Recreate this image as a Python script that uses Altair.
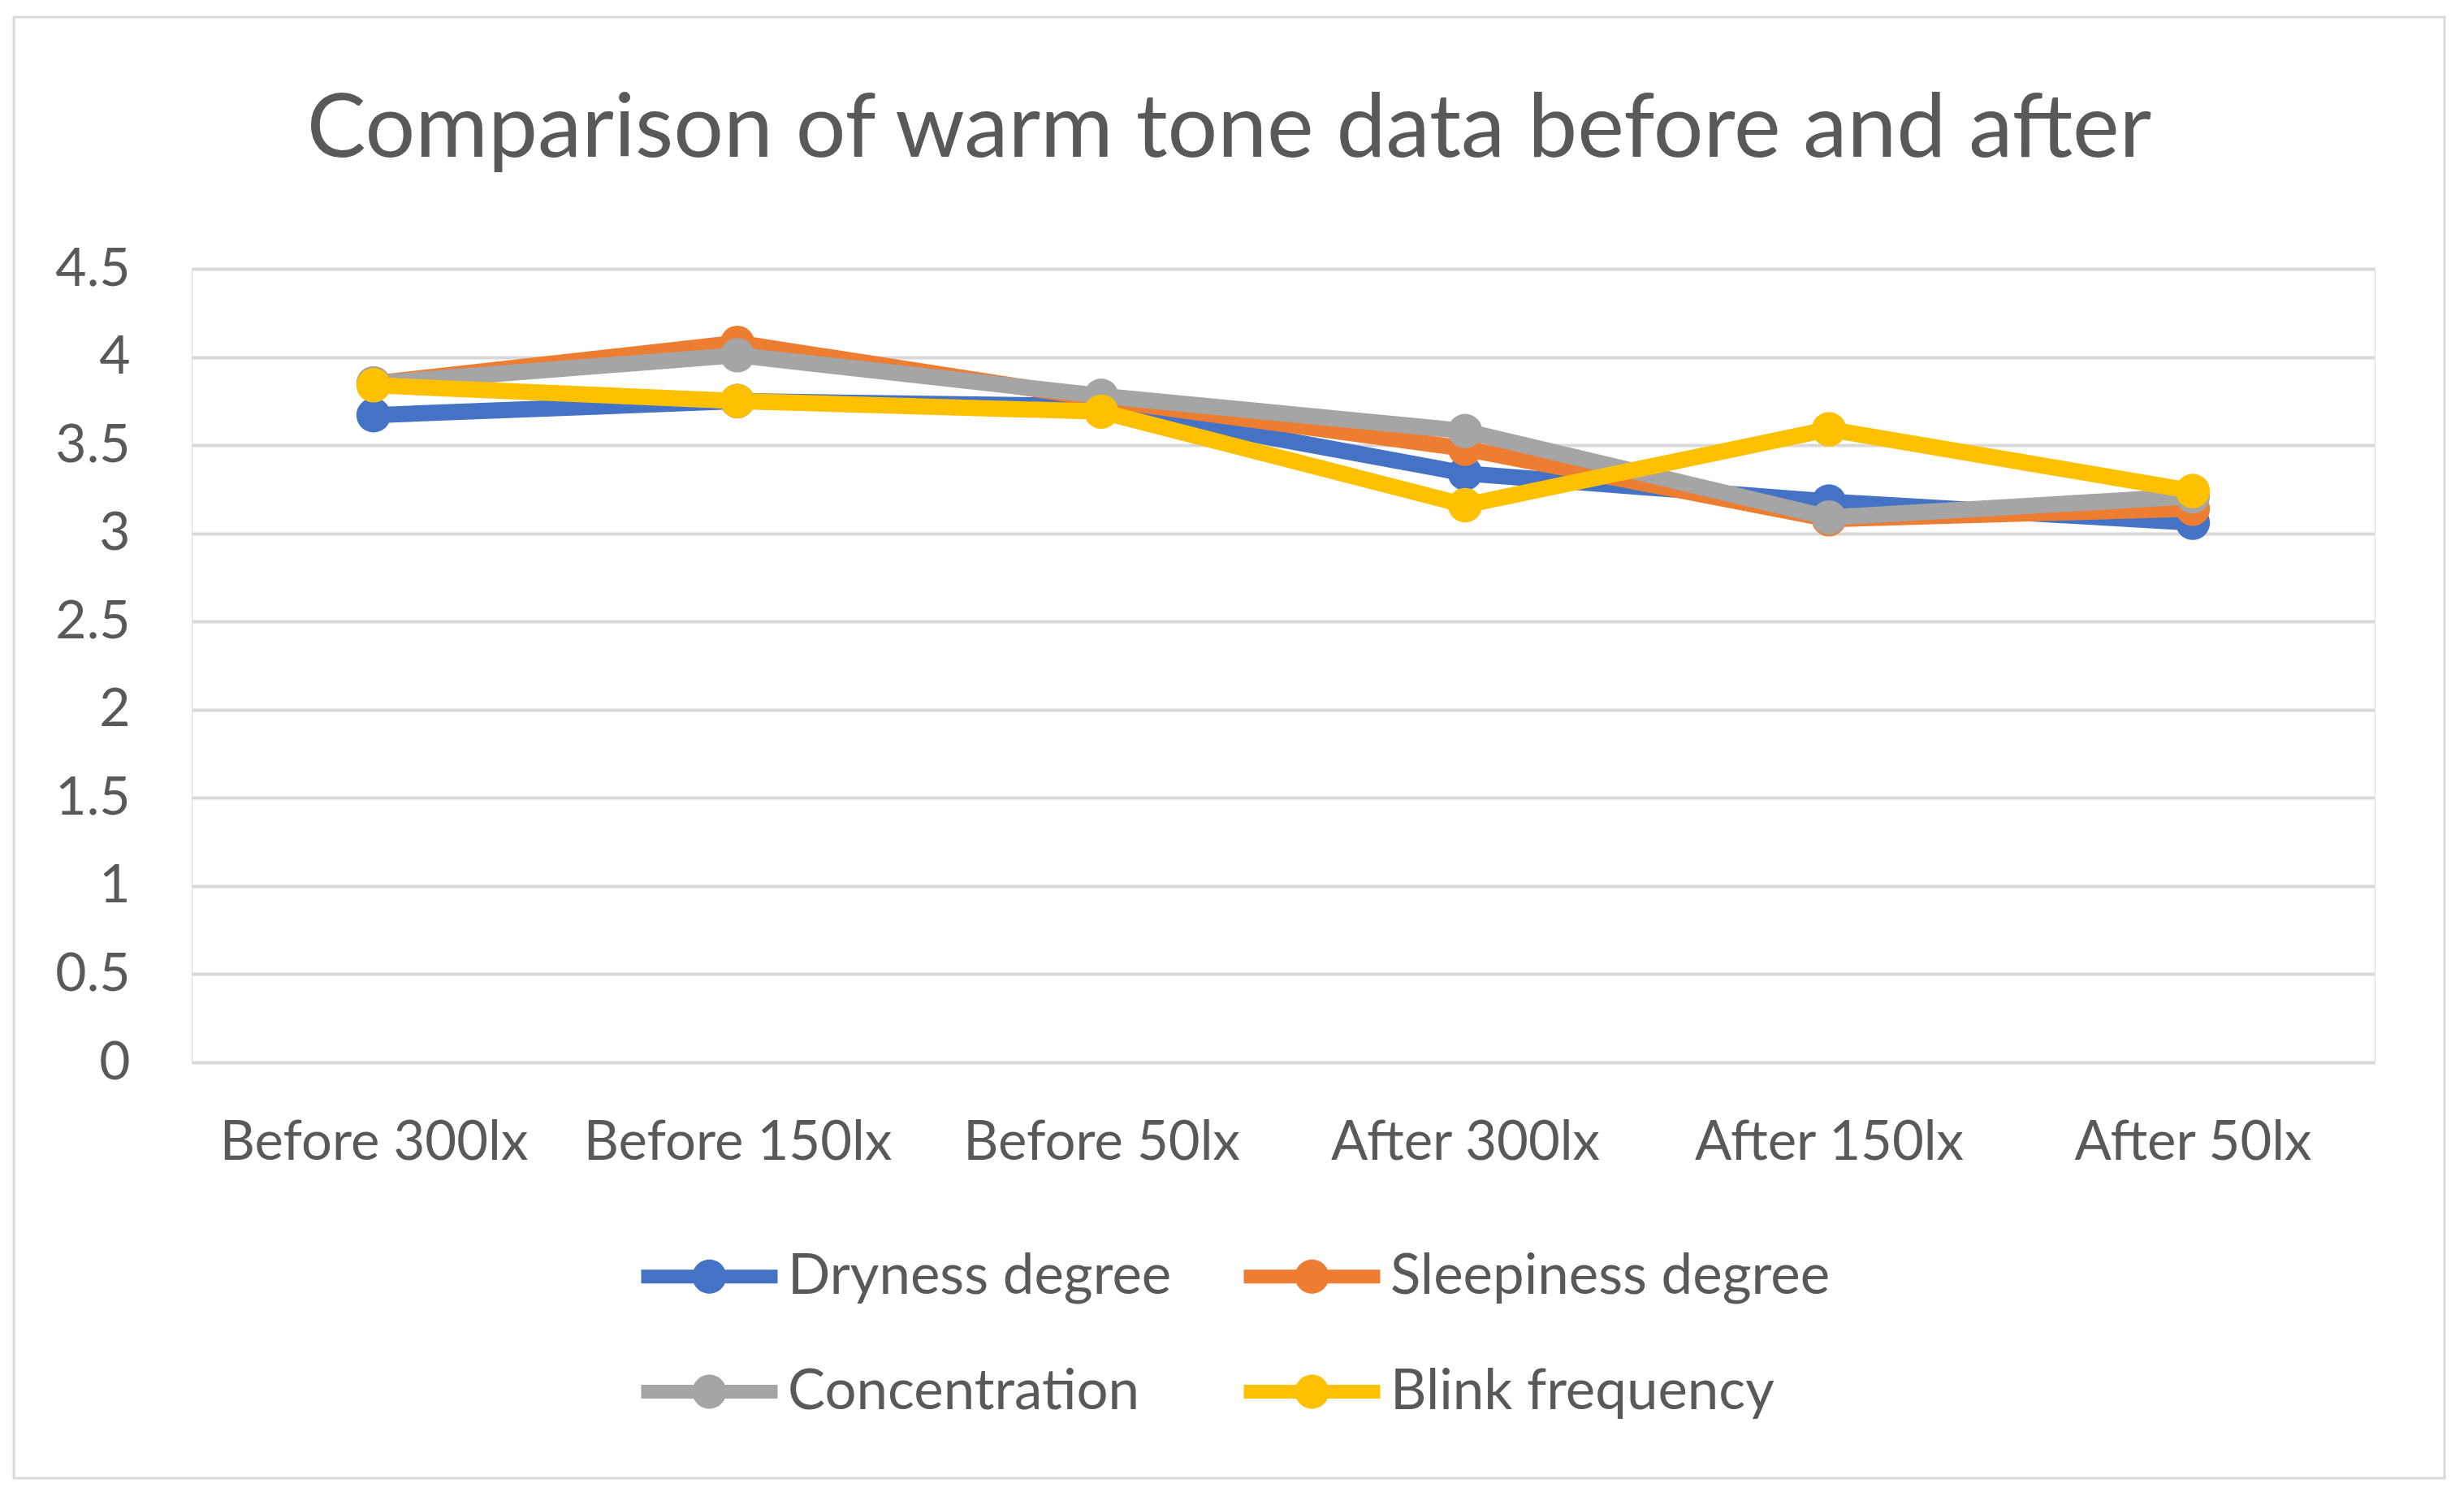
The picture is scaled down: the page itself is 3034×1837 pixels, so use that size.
import altair as alt
import pandas as pd

categories = ["Before 300lx", "Before 150lx", "Before 50lx", "After 300lx", "After 150lx", "After 50lx"]
series_names = ["Dryness degree", "Sleepiness degree", "Concentration", "Blink frequency"]
dryness = [3.67, 3.75, 3.72, 3.34, 3.18, 3.06]
sleepiness = [3.85, 4.08, 3.76, 3.48, 3.08, 3.14]
concentration = [3.85, 4.01, 3.78, 3.58, 3.09, 3.21]
blink = [3.84, 3.75, 3.69, 3.16, 3.59, 3.24]
colors = ["#4472C4", "#ED7D31", "#A5A5A5", "#FFC000"]
y_ticks = [0, 0.5, 1, 1.5, 2, 2.5, 3, 3.5, 4, 4.5]

values = [dryness, sleepiness, concentration, blink]
rows = []
for name, vals in zip(series_names, values):
    for c, v in zip(categories, vals):
        rows.append({"category": c, "series": name, "value": v})
df = pd.DataFrame(rows)

W, H = 2688, 977
FONT = "Lato"
TXT = "#595959"

x_enc = alt.X("category:N", sort=categories, title=None,
              scale=alt.Scale(type="point", padding=0.5),
              axis=alt.Axis(labelAngle=0, domain=False, ticks=False, grid=False,
                            labelPadding=66, labelFontSize=67, labelFont=FONT,
                            labelColor=TXT, labelLimit=1000))
y_enc = alt.Y("value:Q", title=None,
              scale=alt.Scale(domain=[0, 4.5], nice=False, zero=True),
              axis=alt.Axis(values=y_ticks, format=".1~f", domain=False, ticks=False,
                            grid=True, gridColor="#D9D9D9", gridWidth=4,
                            labelPadding=76, labelFontSize=66, labelFont=FONT, labelColor=TXT))

legend_path = ("M-4,-0.4 H4 V0.4 H-4 Z "
               "M1,0 A1,1 0 1,1 -1,0 A1,1 0 1,1 1,0 Z")
color_enc = alt.Color("series:N", sort=series_names,
                      scale=alt.Scale(domain=series_names, range=colors),
                      legend=alt.Legend(title=None, orient="none", legendX=603, legendY=1206,
                                        columns=2, direction="horizontal",
                                        columnPadding=88, rowPadding=72,
                                        symbolType=legend_path, symbolSize=1764,
                                        symbolStrokeWidth=0, symbolOpacity=1,
                                        labelOffset=62, labelFont=FONT, labelFontSize=69,
                                        labelColor=TXT, labelLimit=1000))

base = alt.Chart(df)
layers = []
for name in series_names:
    sub = base.transform_filter(alt.datum.series == name)
    layers.append(sub.mark_line(strokeWidth=20, strokeJoin="round", strokeCap="round")
                  .encode(x=x_enc, y=y_enc, color=color_enc))
    layers.append(sub.mark_point(filled=True, size=1800, opacity=1, shape="circle")
                  .encode(x=x_enc, y=y_enc, color=color_enc))

frame = alt.Chart(pd.DataFrame({"a": [0]})).mark_rect(
    fill="white", fillOpacity=0, stroke="#D9D9D9", strokeWidth=3, clip=False
).encode(x=alt.value(-219), x2=alt.value(2774), y=alt.value(-310), y2=alt.value(1489))

chart = alt.layer(frame, *layers).properties(
    width=W, height=H,
    padding={"left": 7, "top": 11, "right": 5, "bottom": 5},
    title=alt.TitleParams("Comparison of warm tone data before and after",
                          fontSize=109, font=FONT, color=TXT, fontWeight="normal",
                          anchor="middle", frame="bounds", offset=0, dy=196),
).configure_view(stroke=None).configure(background="white")

chart.save("out.html", embed_options={"renderer": "svg", "actions": False})
